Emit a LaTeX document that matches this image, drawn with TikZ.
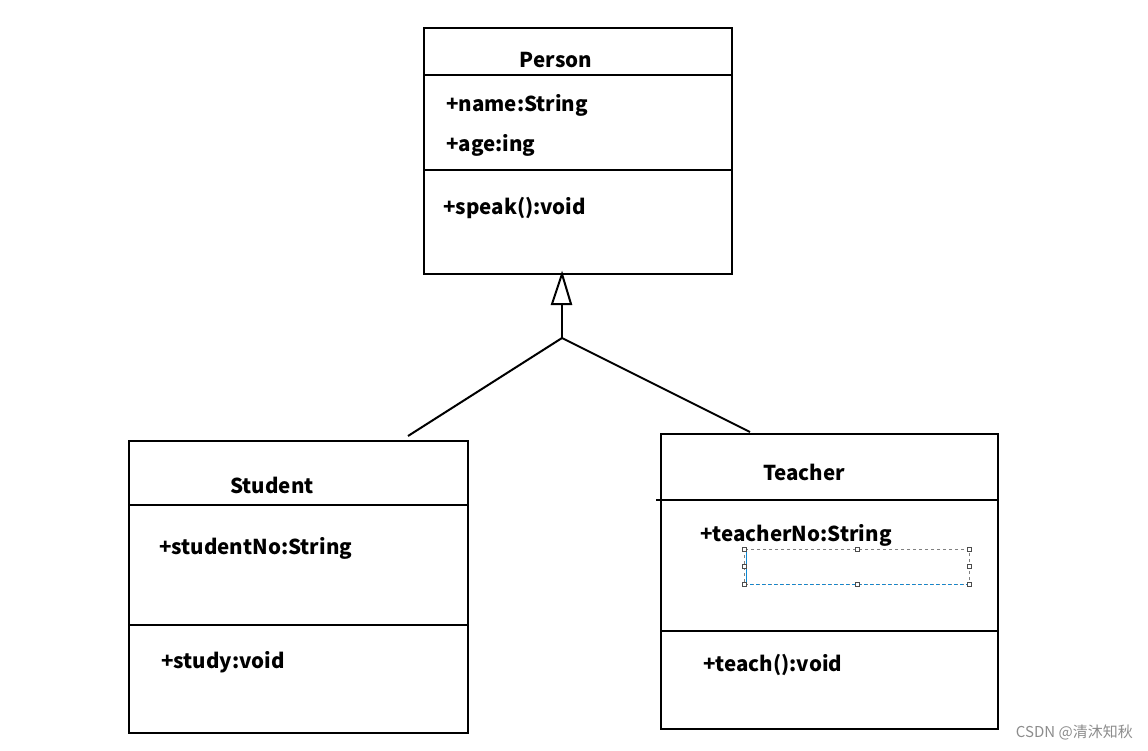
\documentclass[tikz,border=0pt]{standalone}
\usepackage{fontspec}
\setmainfont{Noto Sans CJK SC}
\newfontfamily\cjk{Noto Sans CJK SC}
\begin{document}
\begin{tikzpicture}[x=1pt,y=-1pt,
  box/.style={draw=black,line width=2pt},
  sep/.style={draw=black,line width=2pt},
  lab/.style={anchor=west,inner sep=0pt,font=\fontsize{20.5}{22}\selectfont\bfseries},
  ttl/.style={inner sep=0pt,font=\fontsize{20.5}{22}\selectfont\bfseries},
  conn/.style={draw=black,line width=2pt},
  handle/.style={draw=black!70,line width=0.5pt,fill=white,minimum size=4pt,inner sep=0pt}]
\useasboundingbox (0,0) rectangle (1148,750);
% Person
\node[box,minimum width=308pt,minimum height=246pt,anchor=north west] (person) at (423,27) {};
\draw[sep] (423,75) -- (731,75);
\draw[sep] (423,170) -- (731,170);
\node[ttl] (pt) at (556,60) {Person};
\node[lab] (pa1) at (446,105) {+name:String};
\node[lab] (pa2) at (446,145) {+age:ing};
\node[lab] (pm1) at (443,208) {+speak():void};
% Student
\node[box,minimum width=339pt,minimum height=292pt,anchor=north west] (student) at (128,440) {};
\draw[sep] (128,505) -- (467,505);
\draw[sep] (128,625) -- (467,625);
\node[ttl] (st) at (272,485) {Student};
\node[lab] (sa1) at (159,548) {+studentNo:String};
\node[lab] (sm1) at (161,662) {+study:void};
% Teacher
\node[box,minimum width=337pt,minimum height=295pt,anchor=north west] (teacher) at (660,433) {};
\draw[sep] (656,500) -- (997,500);
\draw[sep] (660,631) -- (997,631);
\node[ttl] (tt) at (804,472) {Teacher};
\node[lab] (ta1) at (700,535) {+teacherNo:String};
\node[lab] (tm1) at (703,665) {+teach():void};
% selection box
\draw[black!50,dashed,line width=0.6pt] (744,549) rectangle (969,584);
\draw[cyan!70!blue,dashed,line width=0.8pt] (744,584) -- (969,584);
\draw[cyan!70!blue,line width=0.8pt] (746,551) -- (746,582);
\foreach \p in {(744,549),(857,549),(969,549),(744,566),(969,566),(744,584),(857,584),(969,584)}
  \node[handle] at \p {};
% inheritance
\coordinate (tip) at (562,274);
\coordinate (base) at (562,304);
\coordinate (join) at (562,338);
\coordinate (sj) at (408,436);
\coordinate (tj) at (750,432);
\draw[conn,line join=miter] (tip) -- (552,304) -- (571,304) -- cycle;
\draw[conn] (base) -- (join);
\draw[conn] (join) -- (sj);
\draw[conn] (join) -- (tj);
% watermark
\node[anchor=east,inner sep=0pt,text=black!45,font=\fontsize{15}{17}\selectfont] (wm) at (1133,732) {CSDN @{\cjk 清沐知秋}};
\end{tikzpicture}
\end{document}
